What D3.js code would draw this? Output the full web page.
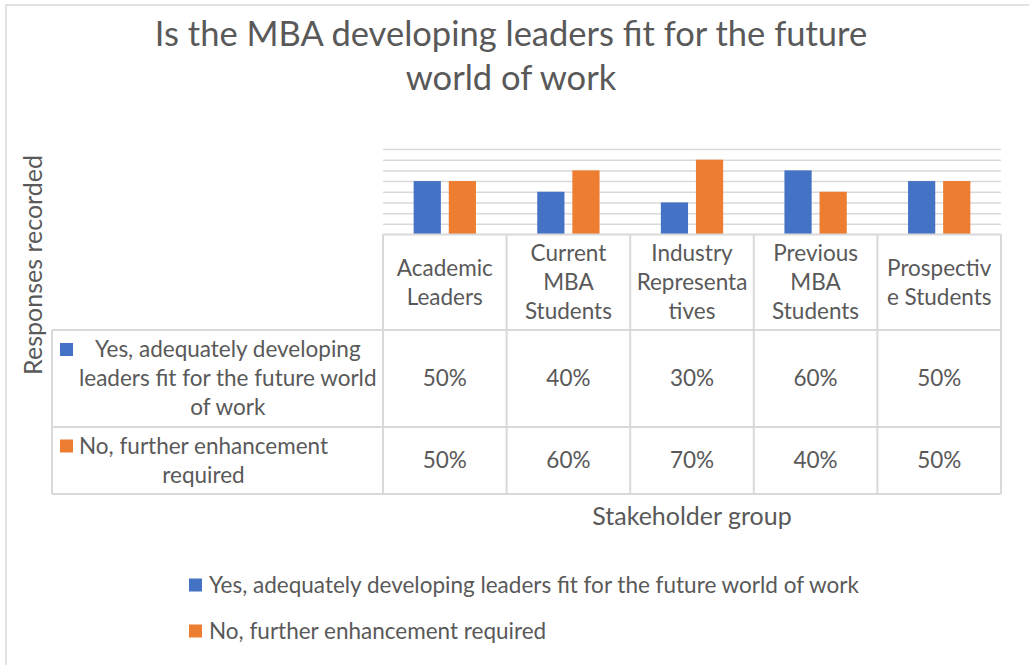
<!DOCTYPE html>
<html>
<head>
<meta charset="utf-8">
<script src="https://cdn.jsdelivr.net/npm/d3@7"></script>
<style>
  body { margin: 0; background: #fff; }
  svg text { font-family: Lato, "Noto Sans", sans-serif; fill: #595959; }
</style>
</head>
<body>
<div id="chart"></div>
<script>
// data
let categories = ['Academic Leaders', 'Current MBA Students', 'Industry Representatives', 'Previous MBA Students', 'Prospective Students'];
// header text wrapped the way the reference shows it
let categoryLines = [
    ['Academic', 'Leaders'],
    ['Current', 'MBA', 'Students'],
    ['Industry', 'Representa', 'tives'],
    ['Previous', 'MBA', 'Students'],
    ['Prospectiv', 'e Students']
];
let seriesNames = ['Yes, adequately developing leaders fit for the future world of work', 'No, further enhancement required'];
let seriesLines = [
    ['Yes, adequately developing', 'leaders fit for the future world', 'of work'],
    ['No, further enhancement', 'required']
];
let yesValues = [0.5, 0.4, 0.3, 0.6, 0.5];
let noValues = [0.5, 0.6, 0.7, 0.4, 0.5];
let yTicks = [0.1, 0.2, 0.3, 0.4, 0.5, 0.6, 0.7, 0.8];
let titleLines = ['Is the MBA developing leaders fit for the future', 'world of work'];
let colors = ['#4472C4', '#ED7D31'];

let width = 1029, height = 665,
    plot = {left: 383, right: 1001, top: 149, bottom: 234.5},
    table = {left: 52, headerBottom: 330, rowBottoms: [427, 494]},
    lineH = 29, fontSize = 22.5, axisFontSize = 25, gridColor = '#d9d9d9';

let svg = d3.select('#chart').append('svg')
    .attr('width', width)
    .attr('height', height);

// chart frame
svg.append('rect')
    .attr('x', 6).attr('y', 5)
    .attr('width', 1100).attr('height', 700)
    .attr('fill', 'none')
    .attr('stroke', gridColor)
    .attr('stroke-width', 1.5);

// title
svg.append('text')
    .attr('text-anchor', 'middle')
    .style('font-size', '34.5px')
    .selectAll('tspan')
    .data(titleLines)
    .join('tspan')
    .attr('x', 511)
    .attr('y', (d, i) => 46 + i * 44)
    .text(d => d);

let xScale = d3.scaleBand()
    .domain(categories)
    .range([plot.left, plot.right]);

let xSub = d3.scaleBand()
    .domain(seriesNames)
    .range([0, xScale.bandwidth()])
    .paddingInner(0.225)
    .paddingOuter(0.873);

let yScale = d3.scaleLinear()
    .domain([0, 0.8])
    .range([plot.bottom, plot.top]);

// gridlines
let grid = svg.append('g')
    .attr('transform', `translate(${plot.left}, 0)`)
    .call(d3.axisLeft(yScale)
        .tickValues(yTicks)
        .tickSize(-(plot.right - plot.left))
        .tickFormat(''));
grid.select('.domain').remove();
grid.selectAll('line').attr('stroke', gridColor).attr('stroke-width', 1.5);

// bars
let seriesData = [yesValues, noValues];
let barG = svg.append('g');
seriesData.forEach((vals, s) => {
    barG.selectAll('.bar' + s)
        .data(vals)
        .join('rect')
        .attr('class', 'bar' + s)
        .attr('x', (d, i) => xScale(categories[i]) + xSub(seriesNames[s]))
        .attr('y', d => yScale(d))
        .attr('width', xSub.bandwidth())
        .attr('height', d => yScale(0) - yScale(d))
        .attr('fill', colors[s]);
});

// data table
let tb = svg.append('g')
    .attr('stroke', gridColor)
    .attr('stroke-width', 2);
let rowTop = yScale(0);
let tableBottom = table.rowBottoms[table.rowBottoms.length - 1];
// horizontal lines
tb.append('line')
    .attr('x1', plot.left).attr('x2', plot.right)
    .attr('y1', rowTop).attr('y2', rowTop);
[table.headerBottom].concat(table.rowBottoms).forEach(y => {
    tb.append('line')
        .attr('x1', table.left).attr('x2', plot.right)
        .attr('y1', y).attr('y2', y);
});
// vertical lines
tb.append('line')
    .attr('x1', table.left).attr('x2', table.left)
    .attr('y1', table.headerBottom).attr('y2', tableBottom);
categories.concat([null]).forEach((c, i) => {
    let x = c ? xScale(c) : plot.right;
    tb.append('line')
        .attr('x1', x).attr('x2', x)
        .attr('y1', rowTop).attr('y2', tableBottom);
});

// header labels
let headerMid = (rowTop + table.headerBottom) / 2;
categories.forEach((c, i) => {
    let lines = categoryLines[i];
    svg.append('text')
        .attr('text-anchor', 'middle')
        .style('font-size', fontSize + 'px')
        .selectAll('tspan')
        .data(lines)
        .join('tspan')
        .attr('x', xScale(c) + xScale.bandwidth() / 2)
        .attr('y', (d, j) => headerMid + (j - (lines.length - 1) / 2) * lineH)
        .attr('dy', '0.35em')
        .text(d => d);
});

// value rows
let rowEdges = [table.headerBottom].concat(table.rowBottoms);
seriesData.forEach((vals, s) => {
    let mid = (rowEdges[s] + rowEdges[s + 1]) / 2;
    svg.append('g').selectAll('text')
        .data(vals)
        .join('text')
        .attr('text-anchor', 'middle')
        .style('font-size', fontSize + 'px')
        .attr('x', (d, i) => xScale(categories[i]) + xScale.bandwidth() / 2)
        .attr('y', mid)
        .attr('dy', '0.35em')
        .text(d3.format('.0%'));

    // row label with legend key
    let lines = seriesLines[s];
    let y0 = mid - (lines.length - 1) / 2 * lineH;
    svg.append('rect')
        .attr('x', 60).attr('y', y0 - 6.5)
        .attr('width', 13).attr('height', 13)
        .attr('fill', colors[s]);
    let label = svg.append('text')
        .style('font-size', fontSize + 'px');
    label.selectAll('tspan')
        .data(lines)
        .join('tspan')
        .attr('y', (d, j) => y0 + j * lineH)
        .attr('dy', '0.35em')
        .text(d => d);
    let maxW = d3.max(label.selectAll('tspan').nodes(), n => n.getComputedTextLength());
    label.attr('text-anchor', 'middle')
        .selectAll('tspan')
        .attr('x', 79 + maxW / 2);
});

// axis titles
svg.append('text')
    .attr('text-anchor', 'middle')
    .attr('transform', 'translate(33, 265) rotate(-90)')
    .attr('dy', '0.35em')
    .style('font-size', axisFontSize + 'px')
    .text('Responses recorded');

svg.append('text')
    .attr('text-anchor', 'middle')
    .attr('x', (plot.left + plot.right) / 2)
    .attr('y', 516)
    .attr('dy', '0.35em')
    .style('font-size', axisFontSize + 'px')
    .text('Stakeholder group');

// legend
let legend = svg.append('g')
    .selectAll('g')
    .data(seriesNames)
    .join('g')
    .attr('transform', (d, i) => `translate(189, ${585 + i * 46})`);
legend.append('rect')
    .attr('y', -6.5)
    .attr('width', 13).attr('height', 13)
    .attr('fill', (d, i) => colors[i]);
legend.append('text')
    .attr('x', 20)
    .attr('dy', '0.35em')
    .style('font-size', fontSize + 'px')
    .text(d => d);
</script>
</body>
</html>
